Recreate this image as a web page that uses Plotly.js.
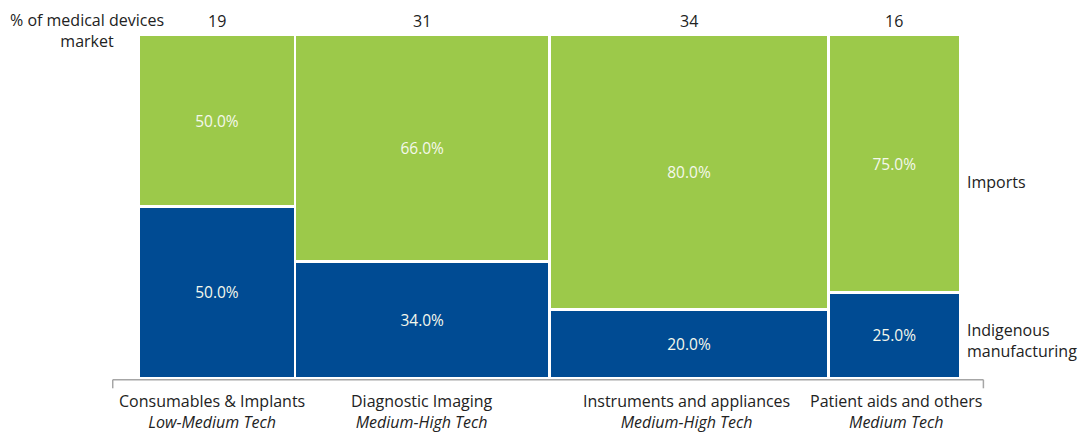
<!DOCTYPE html>
<html>
<head>
<meta charset="utf-8">
<script src="https://cdn.plot.ly/plotly-3.0.1.min.js"></script>
<style>
html,body{margin:0;padding:0;background:#fff;}
#chart{width:1078px;height:437px;}
</style>
</head>
<body>
<div id="chart"></div>
<script>
const categories = ["Consumables & Implants", "Diagnostic Imaging", "Instruments and appliances", "Patient aids and others"];
const techLevels = ["Low-Medium Tech", "Medium-High Tech", "Medium-High Tech", "Medium Tech"];
const marketShare = [19, 31, 34, 16];
const indigenous = [50.0, 34.0, 20.0, 25.0];
const imports = [50.0, 66.0, 80.0, 75.0];
const seriesNames = ["Indigenous manufacturing", "Imports"];

const FONT = "Open Sans, Noto Sans, sans-serif";
const GREEN = "#9cc94a";
const BLUE = "#004b93";

// x positions from cumulative shares
const centers = [];
let acc = 0;
marketShare.forEach(w => { centers.push(acc + w / 2); acc += w; });

function barTrace(vals, name, color) {
  return {
    type: "bar",
    x: centers,
    y: vals,
    width: marketShare,
    name: name,
    marker: { color: color, line: { color: "#ffffff", width: 2.5 } },
    text: vals.map(v => v.toFixed(1) + "%"),
    textposition: "inside",
    insidetextanchor: "middle",
    textangle: 0,
    textfont: { family: FONT, size: 15.5, color: "#f4f8ec" },
    hoverinfo: "skip",
    showlegend: false
  };
}

const data = [
  barTrace(indigenous, seriesNames[0], BLUE),
  barTrace(imports, seriesNames[1], GREEN)
];

const annotations = [];
// top share labels
centers.forEach((c, i) => {
  annotations.push({
    xref: "x", yref: "paper", x: c, y: 1, yanchor: "bottom", yshift: 1,
    text: String(marketShare[i]), showarrow: false,
    font: { family: FONT, size: 16, color: "#222" }
  });
});
// category labels
const labelShift = [-5, 0, -3, 2];
centers.forEach((c, i) => {
  annotations.push({
    xref: "x", yref: "paper", x: c, y: 0, yanchor: "top", yshift: -10, xshift: labelShift[i],
    text: categories[i] + "<br><i>" + techLevels[i] + "</i>", showarrow: false,
    align: "center",
    font: { family: FONT, size: 16, color: "#222" }
  });
});
// left header
annotations.push({
  xref: "paper", yref: "paper", x: -0.063, y: 1, xanchor: "center", yanchor: "top", yshift: 28,
  text: "% of medical devices<br>market", showarrow: false, align: "center",
  font: { family: FONT, size: 16, color: "#222" }
});
// series labels on right
annotations.push({
  xref: "paper", yref: "y", x: 1, xshift: 5, y: 57, xanchor: "left",
  text: seriesNames[1], showarrow: false, align: "left",
  font: { family: FONT, size: 16, color: "#222" }
});
annotations.push({
  xref: "paper", yref: "y", x: 1, xshift: 5, y: 11, xanchor: "left",
  text: "Indigenous<br>manufacturing", showarrow: false, align: "left",
  font: { family: FONT, size: 16, color: "#222" }
});

const shapes = [
  { type: "line", xref: "paper", yref: "paper", x0: -0.032, x1: 1.0285, y0: -0.005, y1: -0.005, line: { color: "#a6a6a6", width: 1.5 } },
  { type: "line", xref: "paper", yref: "paper", x0: -0.032, x1: -0.032, y0: -0.005, y1: -0.03, line: { color: "#a6a6a6", width: 1.5 } },
  { type: "line", xref: "paper", yref: "paper", x0: 1.0285, x1: 1.0285, y0: -0.005, y1: -0.03, line: { color: "#a6a6a6", width: 1.5 } }
];

const layout = {
  width: 1078, height: 437,
  margin: { l: 139, r: 118, t: 35, b: 59 },
  paper_bgcolor: "#ffffff", plot_bgcolor: "#ffffff",
  barmode: "stack",
  bargap: 0,
  xaxis: { range: [0, 100], showgrid: false, zeroline: false, showticklabels: false, showline: false, ticks: "", fixedrange: true },
  yaxis: { range: [0, 100], showgrid: false, zeroline: false, showticklabels: false, showline: false, ticks: "", fixedrange: true },
  annotations: annotations,
  shapes: shapes,
  showlegend: false,
  uniformtext: { mode: false }
};

Plotly.newPlot("chart", data, layout, { displayModeBar: false, staticPlot: true });
</script>
</body>
</html>
